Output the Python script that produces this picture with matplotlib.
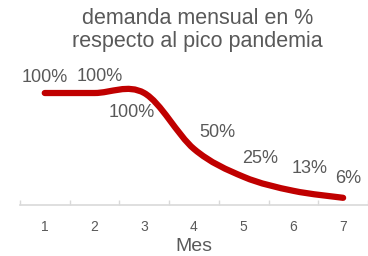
import matplotlib
matplotlib.use("Agg")
import matplotlib.pyplot as plt
from matplotlib.path import Path
from matplotlib.patches import PathPatch

# data
meses = [1, 2, 3, 4, 5, 6, 7]
demanda = [100, 100, 100, 50, 25, 12.5, 6.25]
etiquetas = ["100%", "100%", "100%", "50%", "25%", "13%", "6%"]
tick_labels = ["1", "2", "3", "4", "5", "6", "7"]

# label offsets in points (dx, dy)
offsets = [(0, 11), (4, 12), (-9, -14), (17, 11.5), (11.5, 13), (12, 16), (3.5, 14)]

RED = "#C00000"
GRAY = "#595959"
AXIS_GRAY = "#D9D9D9"

plt.rcParams['font.family'] = ['Liberation Sans', 'DejaVu Sans']


def smooth_path(xs, ys, t=1.0 / 6):
    """Excel-like smoothed line as cubic bezier path."""
    n = len(xs)
    verts = [(xs[0], ys[0])]
    codes = [Path.MOVETO]
    for i in range(n - 1):
        p0 = (xs[max(i - 1, 0)], ys[max(i - 1, 0)])
        p1 = (xs[i], ys[i])
        p2 = (xs[i + 1], ys[i + 1])
        p3 = (xs[min(i + 2, n - 1)], ys[min(i + 2, n - 1)])
        c1 = (p1[0] + (p2[0] - p0[0]) * t, p1[1] + (p2[1] - p0[1]) * t)
        c2 = (p2[0] - (p3[0] - p1[0]) * t, p2[1] - (p3[1] - p1[1]) * t)
        verts += [c1, c2, p2]
        codes += [Path.CURVE4] * 3
    return Path(verts, codes)


fig = plt.figure(figsize=(3.68, 2.56), dpi=100)
ax = fig.add_axes([0.054, 0.2, 0.946, 0.524])

patch = PathPatch(smooth_path(meses, demanda), facecolor="none", edgecolor=RED,
                  lw=4.5, capstyle="round", joinstyle="round", clip_on=False)
ax.add_patch(patch)

for x, y, lab, off in zip(meses, demanda, etiquetas, offsets):
    ax.annotate(lab, (x, y), xytext=off, textcoords="offset points",
                ha="center", va="center", fontsize=13, color=GRAY)

ax.set_xlim(0.5, 7.5)
ax.set_ylim(0, 120)
ax.set_xticks(meses)
ax.set_xticklabels(tick_labels, fontsize=10, color=GRAY)
ax.set_xticks([m + 0.5 for m in [0] + meses], minor=True)
ax.tick_params(axis="x", which="major", length=0, pad=11)
ax.tick_params(axis="x", which="minor", direction="in", length=3.6, width=1, color=AXIS_GRAY)
ax.set_yticks([])
for s in ["top", "right", "left"]:
    ax.spines[s].set_visible(False)
ax.spines["bottom"].set_color(AXIS_GRAY)
ax.spines["bottom"].set_linewidth(1.2)

ax.set_xlabel("Mes", fontsize=14, color=GRAY, labelpad=3)

fig.text(0.537, 0.883, "demanda mensual en %\nrespecto al pico pandemia",
         ha="center", va="center", fontsize=15.5, color=GRAY, linespacing=1.1)

fig.savefig("out.png", dpi=100)
